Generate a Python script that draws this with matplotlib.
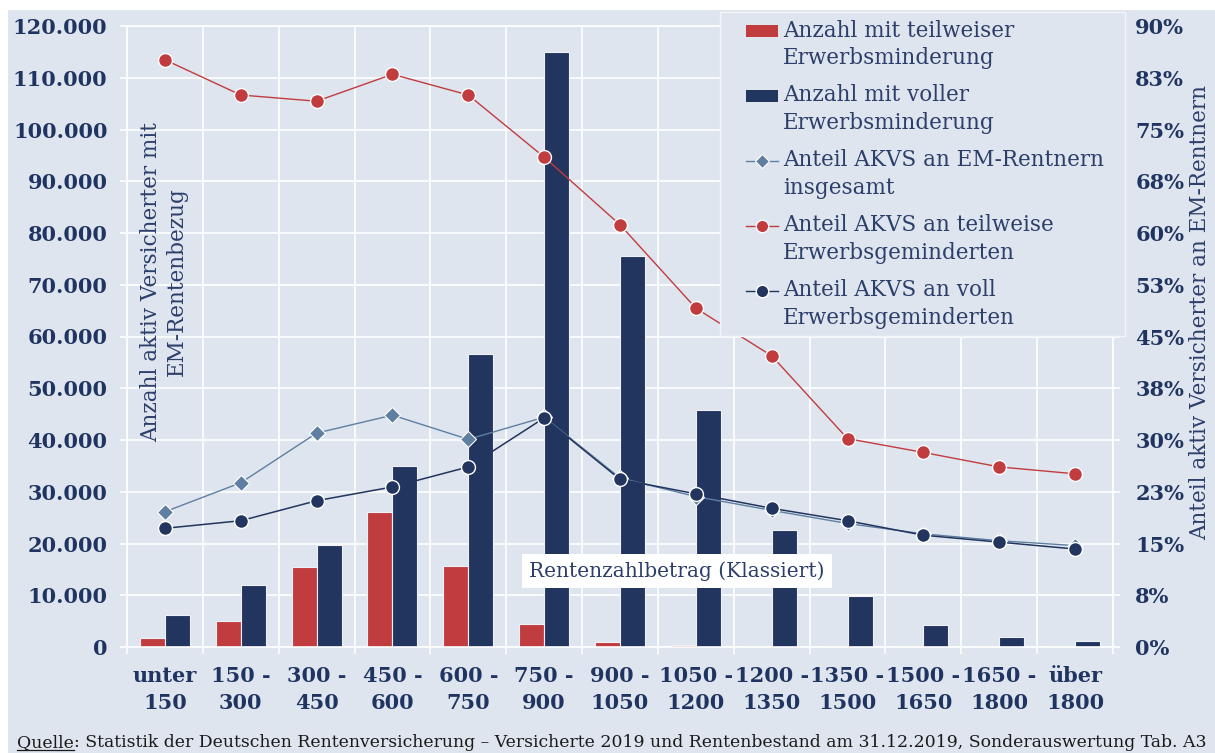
import numpy as np
import matplotlib
matplotlib.use("Agg")
import matplotlib.pyplot as plt
from matplotlib.patches import Patch, Rectangle
from matplotlib.lines import Line2D
from matplotlib.ticker import FuncFormatter
from matplotlib.legend_handler import HandlerBase

plt.rcParams['font.family'] = ['DejaVu Serif']

# --- data -------------------------------------------------------------
categories = ["unter\n150", "150 -\n300", "300 -\n450", "450 -\n600", "600 -\n750",
              "750 -\n900", "900 -\n1050", "1050 -\n1200", "1200 -\n1350",
              "1350 -\n1500", "1500 -\n1650", "1650 -\n1800", "über\n1800"]

anzahl_teilweise = [1700, 5100, 15400, 26000, 15600, 4500, 1000, 300, 60, 40, 30, 20, 20]
anzahl_voll = [6100, 11900, 19800, 34900, 56700, 115000, 75500, 45800, 22600, 9900, 4300, 1900, 1200]

anteil_insgesamt = [19.6, 23.8, 31.0, 33.6, 30.1, 33.3, 24.5, 21.8, 19.8, 17.9, 16.4, 15.4, 14.7]
anteil_teilweise = [85.1, 80.0, 79.1, 83.0, 80.0, 71.0, 61.2, 49.1, 42.2, 30.2, 28.2, 26.1, 25.1]
anteil_voll = [17.2, 18.3, 21.2, 23.2, 26.1, 33.2, 24.3, 22.2, 20.1, 18.3, 16.2, 15.2, 14.2]

pct_ticklabels = ["0%", "8%", "15%", "23%", "30%", "38%", "45%", "53%", "60%",
                  "68%", "75%", "83%", "90%"]

legend_labels = ["Anzahl mit teilweiser\nErwerbsminderung",
                 "Anzahl mit voller\nErwerbsminderung",
                 "Anteil AKVS an EM-Rentnern\ninsgesamt",
                 "Anteil AKVS an teilweise\nErwerbsgeminderten",
                 "Anteil AKVS an voll\nErwerbsgeminderten"]

# --- style ------------------------------------------------------------
W, H = 1215, 753
BG = "#dfe5ee"
RED = "#c03c3f"
NAVY = "#22355e"
STEEL = "#5e7fa2"
TXT = "#1f3461"
LBL = "#2c3f6b"


class FirstLineHandler(HandlerBase):
    """Legend key drawn beside the first line of a two-line label,
    indented from the left edge of the handle box."""

    def create_artists(self, legend, orig_handle, xdescent, ydescent,
                       width, height, fontsize, trans):
        indent = 0.85 * fontsize
        x0 = indent - xdescent
        x1 = width - xdescent
        yc = height / 2 - ydescent + 0.64 * fontsize
        if isinstance(orig_handle, Patch):
            ph = 0.56 * fontsize
            r = Rectangle((x0, yc - ph / 2), x1 - x0, ph,
                          facecolor=orig_handle.get_facecolor(),
                          edgecolor="none", transform=trans)
            return [r]
        ln = Line2D([x0, x1], [yc, yc], color=orig_handle.get_color(),
                    lw=orig_handle.get_linewidth(), transform=trans)
        mk = Line2D([(x0 + x1) / 2], [yc], linestyle="none",
                    marker=orig_handle.get_marker(),
                    markersize=orig_handle.get_markersize(),
                    markerfacecolor=orig_handle.get_markerfacecolor(),
                    markeredgecolor=orig_handle.get_markeredgecolor(),
                    markeredgewidth=orig_handle.get_markeredgewidth(),
                    transform=trans)
        return [ln, mk]


fig = plt.figure(figsize=(W / 100, H / 100), dpi=100)
fig.patch.set_facecolor("white")
fig.add_artist(Rectangle((8 / W, 0), 1 - 8 / W, 1 - 10 / H, transform=fig.transFigure,
                         facecolor=BG, edgecolor="none", zorder=0))

ax = fig.add_axes([127 / W, (H - 647) / H, (1113 - 127) / W, (647 - 26) / H])
ax.set_facecolor(BG)
ax.set_axisbelow(True)

x = np.arange(len(categories))
bw = 0.33
ax.bar(x - bw / 2, anzahl_teilweise, width=bw, color=RED, edgecolor="#eef1f6",
       linewidth=0.8, zorder=2)
ax.bar(x + bw / 2, anzahl_voll, width=bw, color=NAVY, edgecolor="#eef1f6",
       linewidth=0.8, zorder=2)

ax.set_xlim(-0.5, len(categories) - 0.5)
ax.set_ylim(0, 120000)
ax.set_yticks(np.arange(0, 120001, 10000))
ax.yaxis.set_major_formatter(FuncFormatter(lambda v, p: f"{v:,.0f}".replace(",", ".")))
ax.set_xticks(x)
ax.set_xticklabels(categories)
ax.set_xticks(np.arange(-0.5, len(categories), 1), minor=True)

ax.yaxis.grid(True, color="white", linewidth=1.2)
ax.xaxis.grid(True, which="minor", color="white", linewidth=1.2)
ax.tick_params(axis="x", which="major", length=0, pad=14, labelsize=15,
               labelcolor=TXT)
ax.tick_params(axis="x", which="minor", length=5, width=1.2, color="white")
ax.tick_params(axis="y", length=5, width=1.2, color="white", pad=9,
               labelsize=15, labelcolor=TXT)
for lab in ax.get_xticklabels() + ax.get_yticklabels():
    lab.set_fontweight("bold")
for lab in ax.get_xticklabels():
    lab.set_linespacing(1.42)
for sp in ax.spines.values():
    sp.set_color("white")
    sp.set_linewidth(1.2)

# percentage axis
ax2 = ax.twinx()
ax2.set_ylim(0, 90)
ax2.set_yticks(np.arange(0, 90.1, 7.5))
ax2.set_yticklabels(pct_ticklabels)
ax2.tick_params(axis="y", length=5, width=1.2, color="white", pad=11,
                labelsize=15, labelcolor=TXT)
for lab in ax2.get_yticklabels():
    lab.set_fontweight("bold")
for sp in ax2.spines.values():
    sp.set_visible(False)

ax2.plot(x, anteil_insgesamt, color=STEEL, linewidth=1.0, marker="D", markersize=8,
         markerfacecolor=STEEL, markeredgecolor="white", markeredgewidth=0.8, zorder=3)
ax2.plot(x, anteil_teilweise, color=RED, linewidth=1.0, marker="o", markersize=10,
         markerfacecolor=RED, markeredgecolor="white", markeredgewidth=1.0, zorder=4)
ax2.plot(x, anteil_voll, color=NAVY, linewidth=1.1, marker="o", markersize=10,
         markerfacecolor=NAVY, markeredgecolor="white", markeredgewidth=1.0, zorder=5)

# axis titles
fig.text(164 / W, (H - 282) / H, "Anzahl aktiv Versicherter mit\nEM-Rentenbezug",
         rotation=90, ha="center", va="center", multialignment="center",
         fontsize=15.5, color=LBL, linespacing=1.2)
fig.text(1200 / W, (H - 312) / H, "Anteil aktiv Versicherter an EM-Rentnern",
         rotation=90, ha="center", va="center", fontsize=15.5, color=LBL)
fig.text(677 / W, (H - 571) / H, "Rentenzahlbetrag (Klassiert)", ha="center",
         va="center", fontsize=14.5, color=LBL, zorder=10,
         bbox=dict(facecolor="white", edgecolor="none", pad=5))

# legend
handles = [Patch(facecolor=RED),
           Patch(facecolor=NAVY),
           Line2D([], [], color=STEEL, lw=1.0, marker="D", markersize=7,
                  markerfacecolor=STEEL, markeredgecolor="white", markeredgewidth=0.8),
           Line2D([], [], color=RED, lw=1.0, marker="o", markersize=9,
                  markerfacecolor=RED, markeredgecolor="white", markeredgewidth=1.0),
           Line2D([], [], color=NAVY, lw=1.0, marker="o", markersize=9,
                  markerfacecolor=NAVY, markeredgecolor="white", markeredgewidth=1.0)]
leg = fig.legend(handles, legend_labels, loc="upper left",
                 bbox_to_anchor=(720 / W, 1 - 12 / H, (1125 - 720) / W, 0),
                 mode="expand", borderaxespad=0, fontsize=15.5, frameon=True,
                 fancybox=False, framealpha=1, handlelength=2.35, handletextpad=0.23,
                 borderpad=0.35, labelspacing=0.72, labelcolor=LBL,
                 handler_map={h: FirstLineHandler() for h in handles})
for t in leg.get_texts():
    t.set_linespacing(1.32)
leg.get_frame().set_facecolor(BG)
leg.get_frame().set_edgecolor("#f3f5f9")
leg.get_frame().set_linewidth(1.0)
leg.set_zorder(20)

# source note with underlined lead word
fy = (H - 747) / H
q = fig.text(17 / W, fy, "Quelle", ha="left", va="baseline", fontsize=12.4,
             color="#1a1a1a")
fig.canvas.draw()
bb = q.get_window_extent(fig.canvas.get_renderer())
fig.text(bb.x1 / W, fy, ": Statistik der Deutschen Rentenversicherung – Versicherte "
         "2019 und Rentenbestand am 31.12.2019, Sonderauswertung Tab. A3",
         ha="left", va="baseline", fontsize=12.4, color="#1a1a1a")
fig.add_artist(Line2D([bb.x0 / W, bb.x1 / W], [fy - 2.5 / H, fy - 2.5 / H],
                      transform=fig.transFigure, color="#1a1a1a", lw=0.9))

fig.savefig("out.png", dpi=100, facecolor=fig.get_facecolor())
